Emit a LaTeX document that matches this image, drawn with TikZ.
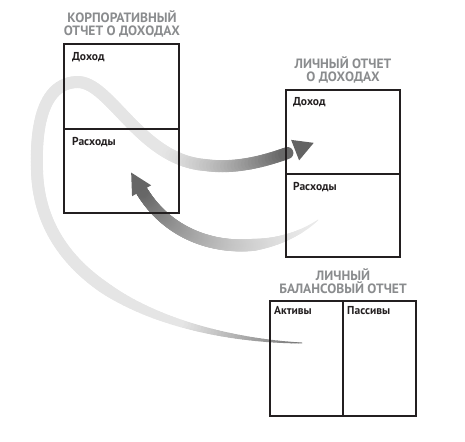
\documentclass[tikz,border=0pt]{standalone}
\usepackage{fontspec}
\setmainfont{PT Sans}
\usetikzlibrary{decorations.markings}
\definecolor{titlegray}{HTML}{8A8C8E}
\definecolor{boxline}{HTML}{231F20}
\begin{document}
\begin{tikzpicture}[x=1pt,y=-1pt,
  box/.style={draw=boxline, line width=2pt, inner sep=0pt, outer sep=0pt, anchor=north west},
  divline/.style={draw=boxline, line width=2pt},
  ttl/.style={font=\bfseries\fontsize{13.5}{13}\selectfont, text=titlegray, align=center, inner sep=0pt},
  lbl/.style={font=\bfseries\fontsize{11.5}{13}\selectfont, text=boxline, anchor=base west, inner sep=0pt}]
\useasboundingbox (0,0) rectangle (465,441);

% big band: balance sheet -> loop -> personal income
\path[decoration={markings, mark=between positions 0 and 1 step 0.00495 with {\coordinate (ba\pgfkeysvalueof{/pgf/decoration/mark info/sequence number});}}, decorate]
  (302,343) .. controls (200,340) and (40,300) .. (37,170)
  .. controls (35,110) and (50,83) .. (77,82)
  .. controls (110,81) and (140,160) .. (205,165)
  .. controls (240,170) and (275,158) .. (298,149);
\foreach \i in {1,...,199}{
  \pgfmathtruncatemacro\j{\i+1}
  \pgfmathsetmacro\f{\i/200}
  \pgfmathsetmacro\w{min(0.8+11.2*\f/0.3,12)}
  \pgfmathsetmacro\c{10+45*max(0,1-\f/0.18)+51*(max(\f-0.82,0.0001)/0.18)^1.3}
  \draw[line width=\w pt, black!\c, line cap=round] (ba\i) -- (ba\j);
}
\path[decoration={markings, mark=at position 0.999 with {\fill[black!61] (-3,-11) -- (17,0) -- (-3,11) -- cycle;}}, decorate]
  (205,165) .. controls (240,170) and (275,158) .. (298,149);

% expense band: personal expenses -> corporate expenses
\path[decoration={markings, mark=between positions 0 and 1 step 0.00495 with {\coordinate (bb\pgfkeysvalueof{/pgf/decoration/mark info/sequence number});}}, decorate]
  (318,220) .. controls (270,258) and (180,258) .. (140,188);
\foreach \i in {1,...,199}{
  \pgfmathtruncatemacro\j{\i+1}
  \pgfmathsetmacro\f{\i/200}
  \pgfmathsetmacro\w{min(0.6+11.4*\f/0.35,12)}
  \pgfmathsetmacro\c{8+52*(\f^1.7)}
  \draw[line width=\w pt, black!\c, line cap=round] (bb\i) -- (bb\j);
}
\path[decoration={markings, mark=at position 0.999 with {\fill[black!60] (-3,-11) -- (18,0) -- (-3,11) -- cycle;}}, decorate]
  (318,220) .. controls (270,258) and (180,258) .. (140,188);

% titles
\node[ttl] (t1) at (122,24) {КОРПОРАТИВНЫЙ\\ОТЧЕТ О ДОХОДАХ};
\node[ttl] (t2) at (343,70) {ЛИЧНЫЙ ОТЧЕТ\\О ДОХОДАХ};
\node[ttl] (t3) at (343,281) {ЛИЧНЫЙ\\БАЛАНСОВЫЙ ОТЧЕТ};

% boxes
\node[box, minimum width=115pt, minimum height=169pt] (corp) at (64,44) {};
\draw[divline] (corp.west |- 0,129) -- (corp.east |- 0,129);
\node[box, minimum width=114pt, minimum height=167pt] (pers) at (286,90) {};
\draw[divline] (pers.west |- 0,174) -- (pers.east |- 0,174);
\node[box, minimum width=146pt, minimum height=115pt] (bal) at (270,301) {};
\draw[divline] (bal.north |- 0,301) -- (bal.south |- 0,416);

% labels
\node[lbl] (l1) at (72,61) {Доход};
\node[lbl] (l2) at (72,145) {Расходы};
\node[lbl] (l3) at (293,106) {Доход};
\node[lbl] (l4) at (293,190) {Расходы};
\node[lbl] (l5) at (274,314) {Активы};
\node[lbl] (l6) at (347,314) {Пассивы};
\end{tikzpicture}
\end{document}
